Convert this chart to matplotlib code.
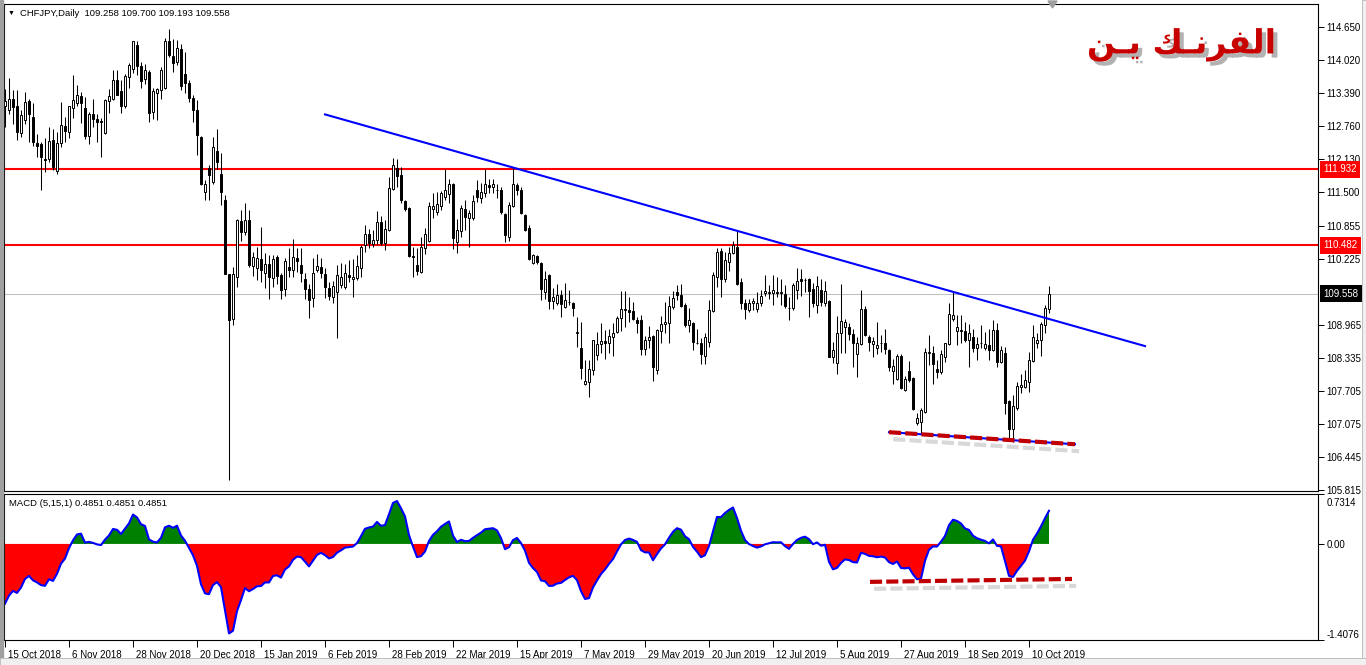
import matplotlib
matplotlib.use('Agg')
import matplotlib.pyplot as plt
import matplotlib.patheffects as pe
import matplotlib.transforms as mtransforms
from matplotlib.patches import Rectangle, Polygon
import numpy as np

plt.rcParams['font.family'] = ['Liberation Sans', 'DejaVu Sans']

# CHFJPY daily bars, 15 Oct 2018 .. 17 Oct 2019
opens = [
    113.14, 113.07, 113.28, 113.15, 112.63, 112.87, 113.23, 112.94, 112.44, 112.41,
    112.12, 112.12, 112.49, 111.90, 112.43, 112.75, 112.65, 113.11, 113.19, 113.33,
    113.11, 112.56, 112.98, 112.89, 112.86, 112.63, 113.24, 113.28, 113.63, 113.43,
    113.14, 113.69, 113.85, 114.30, 113.90, 113.65, 113.79, 113.03, 113.39, 113.44,
    113.49, 114.38, 114.09, 113.98, 114.22, 113.75, 113.58, 113.30, 113.06, 112.55,
    111.49, 111.95, 111.69, 112.28, 111.85, 111.34, 109.94, 109.08, 109.88, 110.94,
    110.74, 110.96, 110.09, 110.05, 110.22, 109.96, 110.13, 109.86, 110.25, 109.91,
    109.64, 110.07, 110.00, 110.24, 110.11, 109.83, 109.64, 109.47, 110.00, 110.07,
    109.94, 109.66, 109.50, 109.59, 109.72, 109.69, 109.92, 109.83, 109.86, 110.04,
    110.48, 110.69, 110.51, 110.58, 110.92, 110.53, 110.78, 111.55, 111.95, 111.82,
    111.32, 111.20, 110.27, 110.10, 109.97, 110.42, 110.57, 111.18, 111.12, 111.23,
    111.40, 111.46, 111.66, 110.55, 110.76, 111.18, 111.01, 111.00, 111.54, 111.39,
    111.48, 111.63, 111.60, 111.54, 111.53, 111.07, 110.64, 111.23, 111.63, 111.53,
    111.05, 110.82, 110.14, 110.27, 110.14, 109.59, 109.91, 109.41, 109.38, 109.53,
    109.31, 109.39, 109.37, 108.80, 108.51, 107.83, 107.86, 108.10, 108.38, 108.59,
    108.65, 108.61, 108.73, 108.83, 109.10, 109.24, 109.24, 109.22, 109.05, 109.06,
    108.49, 108.68, 108.75, 108.10, 108.85, 108.97, 108.99, 109.31, 109.59, 109.53,
    109.34, 108.96, 109.00, 108.62, 108.62, 108.36, 108.64, 109.23, 109.87, 110.37,
    109.83, 110.16, 110.34, 110.44, 109.78, 109.37, 109.25, 109.37, 109.27, 109.37,
    109.56, 109.57, 109.56, 109.58, 109.56, 109.55, 109.29, 109.29, 109.62, 109.83,
    109.81, 109.83, 109.64, 109.34, 109.62, 109.37, 109.42, 108.35, 108.24, 108.80,
    108.92, 108.91, 108.78, 108.40, 108.59, 109.27, 108.72, 108.59, 108.51, 108.61,
    108.62, 108.48, 108.07, 107.92, 108.36, 107.72, 108.08, 107.94, 107.09, 107.11,
    107.30, 108.42, 108.42, 108.11, 108.06, 108.35, 108.59, 109.07, 108.85, 108.86,
    108.85, 108.68, 108.73, 108.51, 108.62, 108.51, 108.57, 108.48, 108.86, 108.26,
    108.42, 107.51, 106.97, 107.37, 107.78, 107.78, 107.86, 108.27, 108.61, 108.68,
    108.96, 109.258]
highs = [
    113.47, 113.68, 113.45, 113.44, 113.07, 113.40, 113.28, 113.19, 112.61, 112.45,
    112.52, 112.74, 112.71, 112.65, 113.22, 112.93, 113.15, 113.73, 113.55, 113.41,
    113.31, 113.03, 113.27, 112.99, 112.91, 113.28, 113.47, 113.83, 113.83, 113.63,
    113.76, 113.96, 114.39, 114.39, 113.98, 113.95, 113.82, 113.49, 113.49, 113.89,
    114.44, 114.62, 114.43, 114.41, 114.32, 114.17, 113.64, 113.35, 113.25, 112.57,
    111.72, 112.01, 112.54, 112.71, 112.25, 111.44, 109.94, 110.07, 110.99, 111.16,
    111.28, 111.16, 110.36, 110.45, 110.83, 110.34, 110.29, 110.30, 110.29, 109.96,
    110.23, 110.42, 110.60, 110.42, 110.42, 109.96, 109.75, 110.24, 110.32, 110.23,
    110.04, 109.78, 109.80, 110.11, 110.15, 110.13, 110.20, 110.21, 110.30, 110.48,
    110.86, 110.80, 110.77, 111.14, 111.04, 110.96, 111.79, 112.14, 112.12, 111.98,
    111.35, 111.21, 110.45, 110.42, 110.63, 110.82, 111.31, 111.48, 111.50, 111.52,
    111.93, 111.74, 111.67, 110.99, 111.25, 111.35, 111.15, 111.44, 111.72, 111.67,
    111.93, 111.74, 111.75, 111.66, 111.60, 111.09, 111.31, 111.96, 111.67, 111.60,
    111.07, 110.86, 110.31, 110.29, 110.16, 109.99, 109.94, 109.66, 109.74, 109.62,
    109.76, 109.62, 109.40, 109.11, 109.02, 108.28, 108.28, 108.68, 108.83, 109.00,
    108.86, 108.89, 109.00, 109.13, 109.61, 109.61, 109.50, 109.40, 109.12, 109.15,
    108.75, 108.94, 108.77, 108.89, 109.13, 109.40, 109.51, 109.61, 109.72, 109.74,
    109.37, 109.29, 109.02, 108.89, 108.70, 108.80, 109.43, 109.97, 110.42, 110.42,
    110.36, 110.44, 110.56, 110.77, 109.85, 109.46, 109.45, 109.48, 109.59, 109.62,
    109.91, 109.72, 109.91, 109.88, 109.83, 109.72, 109.50, 109.76, 110.04, 110.02,
    109.85, 109.86, 109.76, 109.89, 109.83, 109.79, 109.43, 108.64, 109.13, 109.75,
    109.08, 108.99, 108.89, 108.72, 109.62, 109.32, 108.76, 108.72, 109.02, 108.76,
    108.89, 108.49, 108.30, 108.40, 108.41, 107.98, 108.27, 107.97, 107.27, 107.37,
    108.51, 108.76, 108.55, 108.29, 108.48, 108.62, 109.37, 109.59, 109.15, 109.15,
    109.02, 108.98, 108.89, 108.73, 108.96, 108.83, 108.89, 109.06, 108.99, 108.55,
    108.54, 107.52, 107.62, 107.87, 108.03, 108.10, 108.45, 108.96, 108.80, 109.02,
    109.34, 109.700]
lows = [
    112.74, 112.98, 112.80, 112.50, 112.55, 112.80, 112.45, 112.38, 112.16, 111.53,
    111.88, 112.07, 111.91, 111.84, 112.36, 112.45, 112.52, 112.92, 113.14, 112.82,
    112.51, 112.41, 112.74, 112.45, 112.17, 112.60, 113.01, 113.25, 113.35, 113.01,
    113.11, 113.49, 113.77, 113.73, 113.49, 113.57, 112.84, 112.90, 112.87, 113.27,
    113.47, 114.08, 113.79, 113.92, 113.44, 113.38, 113.22, 112.84, 112.20, 111.64,
    111.34, 111.34, 111.66, 111.93, 111.25, 109.93, 105.99, 108.96, 109.69, 110.57,
    110.67, 110.06, 109.90, 109.82, 109.78, 109.67, 109.46, 109.69, 109.75, 109.45,
    109.51, 109.88, 109.88, 109.97, 109.78, 109.46, 109.10, 109.31, 109.97, 109.85,
    109.48, 109.43, 109.38, 108.70, 109.66, 109.64, 109.78, 109.50, 109.82, 109.87,
    110.36, 110.43, 110.44, 110.51, 110.48, 110.39, 110.76, 111.53, 111.60, 111.29,
    111.14, 110.26, 109.87, 109.91, 109.95, 110.31, 110.55, 111.01, 111.05, 111.16,
    111.34, 111.29, 110.40, 110.34, 110.64, 110.77, 110.45, 110.96, 111.31, 111.29,
    111.40, 111.47, 111.47, 111.39, 111.07, 110.55, 110.57, 111.21, 111.44, 111.07,
    110.76, 110.20, 110.13, 110.12, 109.43, 109.45, 109.27, 109.27, 109.34, 109.12,
    109.29, 109.34, 109.13, 108.53, 107.92, 107.81, 107.59, 108.00, 108.29, 108.42,
    108.30, 108.42, 108.36, 108.80, 108.85, 108.92, 109.02, 109.05, 108.81, 108.38,
    108.38, 108.51, 107.89, 108.03, 108.62, 108.80, 108.61, 109.27, 109.43, 109.31,
    108.92, 108.83, 108.48, 108.59, 108.21, 108.22, 108.54, 109.21, 109.69, 109.50,
    109.78, 109.99, 110.32, 109.72, 109.27, 109.08, 109.21, 109.24, 109.21, 109.32,
    109.51, 109.45, 109.34, 109.50, 109.34, 109.29, 109.05, 109.25, 109.46, 109.51,
    109.59, 109.11, 109.31, 109.19, 109.32, 109.32, 108.34, 108.24, 108.02, 108.43,
    108.43, 108.67, 108.16, 107.97, 108.57, 108.74, 108.47, 108.35, 108.41, 108.45,
    108.41, 108.07, 107.83, 107.91, 107.73, 107.70, 107.87, 107.33, 107.05, 106.89,
    107.28, 108.19, 107.84, 107.94, 108.03, 108.26, 108.57, 109.04, 108.57, 108.61,
    108.64, 108.15, 108.45, 108.29, 108.51, 108.48, 108.29, 108.47, 108.16, 108.24,
    107.26, 106.76, 106.73, 107.33, 107.65, 107.75, 107.68, 108.26, 108.51, 108.36,
    108.81, 109.193]
closes = [
    113.23, 113.27, 113.12, 112.65, 112.96, 113.22, 112.98, 112.45, 112.38, 112.16,
    112.10, 112.47, 111.98, 112.44, 112.77, 112.66, 113.14, 113.25, 113.35, 113.19,
    112.57, 112.98, 112.89, 112.83, 112.84, 113.25, 113.33, 113.64, 113.36, 113.14,
    113.71, 113.92, 114.38, 113.90, 113.62, 113.83, 113.01, 113.42, 113.46, 113.82,
    114.39, 114.12, 113.96, 114.24, 113.52, 113.58, 113.30, 113.06, 112.59, 111.66,
    111.66, 111.83, 112.36, 112.07, 111.49, 109.94, 109.06, 109.94, 110.96, 110.73,
    110.96, 110.11, 110.26, 110.23, 110.01, 110.13, 109.87, 110.21, 109.90, 109.62,
    110.18, 110.00, 110.26, 110.18, 109.96, 109.64, 109.43, 109.96, 110.09, 109.96,
    109.69, 109.52, 109.71, 109.92, 109.88, 109.96, 109.87, 109.88, 110.09, 110.44,
    110.70, 110.53, 110.59, 110.93, 110.53, 110.80, 111.58, 112.02, 111.81, 111.35,
    111.18, 110.28, 110.26, 109.99, 110.44, 110.70, 111.23, 111.23, 111.26, 111.47,
    111.53, 111.65, 110.62, 110.77, 111.20, 111.02, 111.10, 111.32, 111.40, 111.49,
    111.66, 111.60, 111.66, 111.53, 111.12, 110.67, 111.25, 111.66, 111.53, 111.10,
    110.78, 110.21, 110.29, 110.16, 109.64, 109.83, 109.42, 109.50, 109.53, 109.36,
    109.43, 109.39, 109.29, 108.83, 108.13, 107.89, 108.11, 108.67, 108.59, 108.65,
    108.62, 108.75, 108.80, 109.10, 109.26, 109.27, 109.21, 109.07, 109.00, 108.50,
    108.67, 108.73, 108.16, 108.86, 108.98, 109.02, 109.32, 109.48, 109.53, 109.32,
    108.96, 109.05, 108.64, 108.61, 108.40, 108.72, 109.25, 109.91, 110.35, 109.83,
    110.20, 110.34, 110.49, 109.75, 109.37, 109.27, 109.38, 109.41, 109.37, 109.51,
    109.60, 109.59, 109.62, 109.57, 109.59, 109.32, 109.28, 109.72, 109.80, 109.80,
    109.81, 109.61, 109.37, 109.70, 109.40, 109.60, 108.35, 108.48, 108.81, 109.03,
    109.02, 108.78, 108.62, 108.62, 109.27, 108.76, 108.64, 108.66, 108.57, 108.62,
    108.49, 108.16, 108.17, 108.36, 107.75, 107.92, 107.91, 107.35, 107.18, 107.33,
    108.45, 108.45, 108.21, 108.06, 108.40, 108.61, 109.16, 109.15, 108.91, 108.85,
    108.67, 108.81, 108.51, 108.59, 108.61, 108.59, 108.48, 108.86, 108.26, 108.48,
    107.47, 106.97, 107.41, 107.79, 107.81, 107.91, 108.29, 108.72, 108.68, 108.97,
    109.29, 109.558]

date_labels = ['15 Oct 2018', '6 Nov 2018', '28 Nov 2018', '20 Dec 2018', '15 Jan 2019',
               '6 Feb 2019', '28 Feb 2019', '22 Mar 2019', '15 Apr 2019', '7 May 2019',
               '29 May 2019', '20 Jun 2019', '12 Jul 2019', '5 Aug 2019', '27 Aug 2019',
               '18 Sep 2019', '10 Oct 2019']
label_step = 16  # bars between date labels

price_ticks = [114.650, 114.020, 113.390, 112.760, 112.130, 111.500, 110.855,
               110.225, 108.965, 108.335, 107.705, 107.075, 106.445, 105.815]
levels = [111.932, 110.482]
bid = 109.558
macd_ticks = [0.7314, 0.0, -1.4076]
macd_first = -1.0  # MACD level before first visible bar

trend_x = [80, 285]
trend_y = [112.98, 108.555]
support_x = [221, 267.5]
support_y = [106.91, 106.68]
macd_sup_x = [216.25, 266.75]
macd_sup_y = [-0.556, -0.513]

title_ar = '\uFEE6\u0640\uFEF3 \uFEDA\u0640\uFEE7\uFEAE\uFED4\uFEDF\uFE8D'  # الفرنـك يـن (shaped, visual order)

o = np.array(opens); h = np.array(highs); l = np.array(lows); c = np.array(closes)
n = len(c)
x = np.arange(n)

# MACD(5,15,1) main line
macd = []
ef = c[0]
es = c[0] - macd_first
for v in c:
    ef += (v - ef) * 2 / 6
    es += (v - es) * 2 / 16
    macd.append(ef - es)
m = np.array(macd)

W, H = 1366, 665
fig = plt.figure(figsize=(W / 100, H / 100), dpi=100)
fig.patch.set_facecolor('white')

ax = fig.add_axes([4 / W, 1 - 491 / H, 1314 / W, 487 / H])
ax2 = fig.add_axes([4 / W, 1 - 640 / H, 1314 / W, 146 / H])

for a in (ax, ax2):
    a.set_xlim(-0.25, 328.25)
    for s in a.spines.values():
        s.set_linewidth(0.8)
        s.set_color('black')
    a.yaxis.tick_right()
    a.tick_params(axis='y', direction='out', length=4, width=0.7, pad=2,
                  labelsize=7, colors='black')

ax.set_ylim(105.787, 115.089)
ax2.set_ylim(-1.4076, 0.7314)

# candles
up = c >= o
ax.vlines(x, l, h, color='black', lw=0.75, zorder=3)
ax.bar(x[up], (c - o)[up], bottom=o[up], width=0.5, facecolor='white',
       edgecolor='black', lw=0.7, zorder=4)
ax.bar(x[~up], (o - c)[~up], bottom=c[~up], width=0.5, facecolor='black',
       edgecolor='black', lw=0.7, zorder=4)

# levels, bid line, trendline
for lv in levels:
    ax.axhline(lv, color='#ff0000', lw=1.5, zorder=2)
ax.axhline(bid, color='#c0c0c0', lw=0.75, zorder=1)
ax.plot(trend_x, trend_y, color='#0000ff', lw=1.5, zorder=5)

shadow = [pe.SimpleLineShadow(offset=(3, -5), shadow_color='#909090', alpha=0.35), pe.Normal()]
ax.plot(support_x, support_y, color='#0000ff', lw=1.5, zorder=5)
ax.plot(support_x, support_y, color='#c00000', lw=3, dashes=(2.9, 1.0),
        path_effects=shadow, zorder=6)

ax.set_xticks([])
ax.set_yticks(price_ticks)
ax.set_yticklabels([f'{v:.3f}' for v in price_ticks])

# level boxes on the price scale
for lv, col in [(levels[0], '#ff0000'), (levels[1], '#ff0000'), (bid, 'black')]:
    ax.text(1.0042, lv, f'{lv:.3f}', transform=ax.get_yaxis_transform(), color='white',
            fontsize=7, va='center', ha='left', zorder=10, clip_on=False,
            bbox=dict(boxstyle='square,pad=0.35', fc=col, ec='none'))

# MACD panel
ax2.fill_between(x, 0, m, where=m >= 0, interpolate=True, color='#008000', lw=0)
ax2.fill_between(x, 0, m, where=m <= 0, interpolate=True, color='#ff0000', lw=0)
ax2.plot(x, m, color='#0000ff', lw=1.5)
ax2.plot(macd_sup_x, macd_sup_y, color='#c00000', lw=3, dashes=(2.9, 1.0),
         path_effects=shadow, zorder=6)

ax2.set_yticks(macd_ticks)
ax2.set_yticklabels(['0.7314', '0.00', '-1.4076'])
yl = ax2.get_yticklabels()
yl[0].set_va('top')
yl[0].set_transform(yl[0].get_transform() +
                    mtransforms.ScaledTranslation(0, -3 / 72, fig.dpi_scale_trans))
yl[2].set_va('bottom')

ax2.set_xticks(np.arange(0, len(date_labels) * label_step, label_step))
ax2.set_xticklabels(date_labels, ha='left')
ax2.tick_params(axis='x', direction='out', length=5, width=0.7, pad=2, labelsize=7)
off = mtransforms.ScaledTranslation(2 / 72, 0, fig.dpi_scale_trans)
for t in ax2.get_xticklabels():
    t.set_transform(t.get_transform() + off)

# headers
fig.text(8 / W, 1 - 13 / H, '\u25bc', fontsize=5, va='center', ha='left')
fig.text(20 / W, 1 - 13 / H, 'CHFJPY,Daily  109.258 109.700 109.193 109.558',
         fontsize=6.8, va='center', ha='left')
fig.text(9 / W, 1 - 503 / H, 'MACD (5,15,1) 0.4851 0.4851 0.4851',
         fontsize=6.8, va='center', ha='left')

# arabic title with shadow
fig.text(1182 / W, 1 - 45 / H, title_ar, fontsize=24, fontweight='bold',
         color='#c80000', ha='center', va='center', family=['DejaVu Sans'],
         path_effects=[pe.SimplePatchShadow(offset=(3, -3), shadow_rgbFace='black', alpha=0.3),
                       pe.Normal()])

# window border and shift marker
fig.add_artist(Rectangle((0, 0), 3 / W, 1, transform=fig.transFigure, color='#a0a0a0'))
fig.add_artist(Rectangle((1362 / W, 0), 4 / W, 1, transform=fig.transFigure,
                         fc='#f0f0f0', ec='#c0c0c0', lw=0.7))
fig.add_artist(Rectangle((0, 0), 1, 7 / H, transform=fig.transFigure,
                         fc='#f0f0f0', ec='#c0c0c0', lw=0.7))
fig.add_artist(Polygon([[1048 / W, 1 - 1 / H], [1057 / W, 1 - 1 / H], [1052.5 / W, 1 - 8 / H]],
                       closed=True, transform=fig.transFigure, color='#a0a0a0'))

fig.savefig('out.png', dpi=100)
